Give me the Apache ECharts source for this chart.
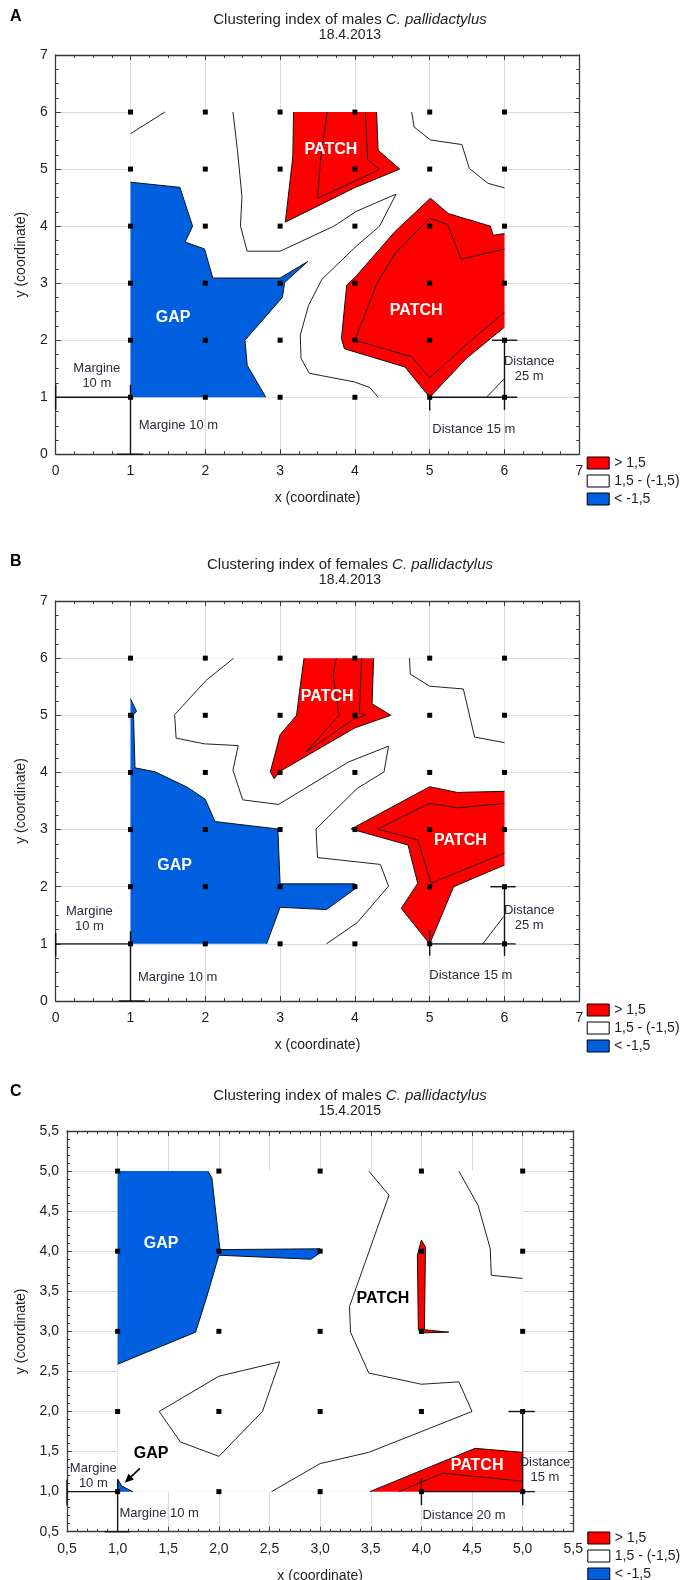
<!DOCTYPE html>
<html>
<head>
<meta charset="utf-8">
<script src="https://cdn.jsdelivr.net/npm/echarts@6/dist/echarts.min.js"></script>
<style>
  html, body { margin: 0; padding: 0; background: #fff; overflow: hidden; }
  #chart { width: 683px; height: 1600px; }
</style>
</head>
<body>
<div id="chart"></div>
<script>
// ---------- Panel A: males, 18.4.2013 ----------
const aTitle = ['Clustering index of males ', 'C. pallidactylus'];
const aDate = '18.4.2013';
const aNodesX = [1, 2, 3, 4, 5, 6];
const aNodesY = [1, 2, 3, 4, 5, 6];
const aStudyArea = [[1, 1], [6, 1], [6, 6], [1, 6]];
const aPatches = [
  [[3.18, 6], [4.29, 6], [4.31, 5.33], [4.60, 5.00], [3.99, 4.67], [3.07, 4.07], [3.17, 5.22]],
  [[5.01, 4.49], [5.25, 4.22], [5.81, 4.00], [5.85, 3.84], [6, 3.87], [6, 2.23], [5.49, 1.68], [5, 1],
   [4.67, 1.53], [3.86, 1.85], [3.82, 2.03], [3.89, 2.96], [4.02, 3.13], [4.54, 3.91]]
];
const aGaps = [
  [[1, 4.77], [1.66, 4.68], [1.83, 4.00], [1.73, 3.72], [1.99, 3.60], [2.10, 3.09], [3.00, 3.09],
   [3.37, 3.38], [3.06, 3.01], [3.03, 2.75], [2.53, 2.00], [2.56, 1.56], [2.81, 1], [1, 1]]
];
const aContours = [
  [[3.63, 6], [3.54, 5.16], [3.50, 4.49], [4.33, 4.99], [4.17, 5.17], [4.14, 6]],
  [[6, 3.60], [5.42, 3.42], [5.24, 4.03], [5.00, 4.14], [4.53, 3.51], [4.30, 3.01], [4.00, 2.00],
   [4.76, 1.71], [5.00, 1.34], [5.53, 1.97], [6, 2.49]],
  [[1, 5.62], [1.46, 6]],
  [[2.37, 6], [2.43, 5.33], [2.49, 4.52], [2.47, 4.00], [2.56, 3.56], [3.00, 3.56], [3.72, 4.00],
   [4.02, 4.26], [4.55, 4.56], [4.33, 4.00], [4.02, 3.65], [3.56, 3.07], [3.38, 2.61], [3.27, 2.09],
   [3.28, 1.68], [3.39, 1.42], [3.99, 1.27], [4.20, 1.17], [4.31, 1]],
  [[4.76, 6], [4.79, 5.74], [5.01, 5.51], [5.43, 5.43], [5.53, 5.01], [5.78, 4.75], [6, 4.67]],
  [[5.76, 1], [6, 1.33]]
];
const aScaleBars = [
  [[0, 1], [1, 1]], [[0, 1.22], [0, 0.78]], [[1, 1.22], [1, 0]], [[0.82, 0], [1.17, 0]],
  [[5, 1], [6.17, 1]], [[5, 1.0], [5, 0.77]], [[6, 1], [6, 0.78]],
  [[6, 1], [6, 2]], [[5.83, 2], [6.17, 2]]
];
const aAreaLabels = [['GAP', 1.57, 2.39], ['PATCH', 3.68, 5.35], ['PATCH', 4.82, 2.52]];
const aCallouts = [];
const aArrows = [];
const aNotes = [
  ['Margine\n10 m', 0.55, 1.37], ['Margine 10 m', 1.64, 0.50],
  ['Distance\n25 m', 6.33, 1.49], ['Distance 15 m', 5.59, 0.43]
];

// ---------- Panel B: females, 18.4.2013 ----------
const bTitle = ['Clustering index of females ', 'C. pallidactylus'];
const bDate = '18.4.2013';
const bNodesX = [1, 2, 3, 4, 5, 6];
const bNodesY = [1, 2, 3, 4, 5, 6];
const bStudyArea = [[1, 1], [6, 1], [6, 6], [1, 6]];
const bPatches = [
  [[3.32, 6], [4.25, 6], [4.23, 5.20], [4.48, 5.00], [4.00, 4.78], [3.00, 4.02], [2.92, 3.89],
   [2.87, 4.01], [3.00, 4.66], [3.22, 5.00], [3.27, 5.52]],
  [[3.95, 3.01], [5.00, 3.75], [5.37, 3.65], [6, 3.67], [6, 2.38], [5.32, 2.00], [5.00, 1.00],
   [4.62, 1.62], [4.84, 2.06], [4.71, 2.73]]
];
const bGaps = [
  [[1, 5.29], [1.08, 5.07], [1.04, 5.01], [1.06, 4.08], [1.33, 4.01], [1.76, 3.74], [2.00, 3.53],
   [2.13, 3.14], [2.97, 3.01], [3.00, 2.05], [4.00, 2.05], [4.03, 1.99], [3.62, 1.60], [3.00, 1.64],
   [2.82, 1], [1, 1]]
];
const bContours = [
  [[3.75, 6], [3.71, 5.69], [3.79, 5.00], [3.35, 4.36], [3.98, 4.93], [4.14, 5.00], [4.06, 5.04], [4.09, 6]],
  [[6, 3.46], [5.37, 3.38], [5.00, 3.46], [4.30, 3.01], [4.84, 2.82], [5.02, 2.06], [6, 2.59]],
  [[2.38, 6], [2.01, 5.61], [1.59, 5.01], [1.61, 4.60], [1.99, 4.50], [2.44, 4.47], [2.37, 4.04],
   [2.50, 3.52], [2.98, 3.44], [3.91, 4.18], [4.45, 4.46], [4.39, 4.01], [4.03, 3.72], [3.48, 3.01],
   [3.50, 2.51], [4.34, 2.39], [4.45, 2.01], [4.03, 1.37], [3.62, 1]],
  [[4.73, 6], [4.74, 5.72], [5.00, 5.51], [5.45, 5.46], [5.60, 4.62], [6, 4.52]],
  [[5.71, 1], [5.99, 1.48]]
];
const bScaleBars = [
  [[0, 1], [1, 1]], [[0, 1.19], [0, 0.78]], [[1, 1.22], [1, 0]], [[0.84, 0], [1.19, 0]],
  [[5, 1], [6.15, 1]], [[5, 1.25], [5, 0.79]], [[6, 1], [6, 0.79]],
  [[6, 1], [6, 2]], [[5.81, 2], [6.15, 2]]
];
const bAreaLabels = [['GAP', 1.59, 2.37], ['PATCH', 3.63, 5.33], ['PATCH', 5.41, 2.81]];
const bCallouts = [];
const bArrows = [];
const bNotes = [
  ['Margine\n10 m', 0.45, 1.44], ['Margine 10 m', 1.63, 0.41],
  ['Distance\n25 m', 6.33, 1.46], ['Distance 15 m', 5.55, 0.44]
];

// ---------- Panel C: males, 15.4.2015 ----------
const cTitle = ['Clustering index of males ', 'C. pallidactylus'];
const cDate = '15.4.2015';
const cNodesX = [1, 2, 3, 4, 5];
const cNodesY = [1, 2, 3, 4, 5];
const cStudyArea = [[1, 1], [5, 1], [5, 5], [1, 5]];
const cPatches = [
  [[4.00, 4.14], [4.04, 4.05], [4.03, 3.02], [4.27, 2.99], [4.00, 2.98], [3.97, 3.02], [3.96, 3.95]],
  [[3.49, 1], [4.53, 1.54], [5, 1.49], [5, 1]]
];
const cGaps = [
  [[1, 5], [1.89, 5], [1.93, 4.92], [2.00, 4.14], [2.01, 4.02], [3.00, 4.03], [3.01, 3.99],
   [2.91, 3.90], [2.00, 3.95], [1.88, 3.43], [1.77, 2.99], [1, 2.59]],
  [[1, 1.16], [1.04, 1.07], [1.15, 1], [1, 1]]
];
const cContours = [
  [[3.78, 1], [4.21, 1.23], [5, 1.13]],
  [[3.48, 5], [3.68, 4.70], [3.29, 3.31], [3.30, 2.99], [3.48, 2.48], [4.00, 2.34], [4.37, 2.37],
   [4.50, 2.00], [4.08, 1.79], [3.48, 1.49], [3.00, 1.35], [2.52, 1]],
  [[4.37, 5], [4.56, 4.57], [4.68, 4.03], [4.69, 3.70], [5, 3.66]],
  [[1.41, 2.00], [2.00, 2.44], [2.60, 2.62], [2.43, 2.00], [2.00, 1.44], [1.62, 1.62], [1.41, 2.00]]
];
const cScaleBars = [
  [[0.5, 1], [1, 1]], [[0.5, 1.15], [0.5, 0.83]], [[1, 1.15], [1, 0.5]], [[0.87, 0.5], [1.12, 0.5]],
  [[4, 1], [5.12, 1]], [[4, 1.17], [4, 0.83]], [[5, 1], [5, 0.83]],
  [[5, 1], [5, 2]], [[4.86, 2], [5.12, 2]]
];
const cAreaLabels = [['GAP', 1.43, 4.09], ['PATCH', 4.55, 1.33]];
const cCallouts = [['PATCH', 3.62, 3.41], ['GAP', 1.33, 1.47]];
const cArrows = [[[1.22, 1.29], [1.07, 1.11]]];
const cNotes = [
  ['Margine\n10 m', 0.76, 1.19], ['Margine 10 m', 1.41, 0.73],
  ['Distance\n15 m', 5.22, 1.27], ['Distance 20 m', 4.42, 0.70]
];

// ---------- Legend classes ----------
const classNames = ['> 1,5', '1,5 - (-1,5)', '< -1,5'];

// ---------- Styling / layout ----------
const FONT = "'Liberation Sans', Arial, sans-serif";
const RED = '#ff0000';
const BLUE = '#005fdf';
const WHITE = '#ffffff';
const INK = '#1e1e1e';
const NOTE_INK = '#2c2a3a';

const panels = [
  { title: aTitle, date: aDate, nodesX: aNodesX, nodesY: aNodesY, area: aStudyArea, patches: aPatches,
    gaps: aGaps, contours: aContours, bars: aScaleBars, areaLabels: aAreaLabels, callouts: aCallouts,
    arrows: aArrows, notes: aNotes },
  { title: bTitle, date: bDate, nodesX: bNodesX, nodesY: bNodesY, area: bStudyArea, patches: bPatches,
    gaps: bGaps, contours: bContours, bars: bScaleBars, areaLabels: bAreaLabels, callouts: bCallouts,
    arrows: bArrows, notes: bNotes },
  { title: cTitle, date: cDate, nodesX: cNodesX, nodesY: cNodesY, area: cStudyArea, patches: cPatches,
    gaps: cGaps, contours: cContours, bars: cScaleBars, areaLabels: cAreaLabels, callouts: cCallouts,
    arrows: cArrows, notes: cNotes }
];

const layouts = [
  { letter: 'A', letterY: 18, titleTop: 7, grid: { left: 55.7, top: 55, width: 523.6, height: 399.3 },
    axis: { min: 0, max: 7, interval: 1, minor: 4, decimals: 0 }, legend: { left: 586.7, top: 456 } },
  { letter: 'B', letterY: 563, titleTop: 552, grid: { left: 55.7, top: 601, width: 523.6, height: 400 },
    axis: { min: 0, max: 7, interval: 1, minor: 4, decimals: 0 }, legend: { left: 586.7, top: 1003 } },
  { letter: 'C', letterY: 1093, titleTop: 1083, grid: { left: 67, top: 1131, width: 506.3, height: 400.7 },
    axis: { min: 0.5, max: 5.5, interval: 0.5, minor: 5, decimals: 1 }, legend: { left: 587.3, top: 1531 } }
];

function fmt(decimals) {
  return v => decimals ? v.toFixed(decimals).replace('.', ',') : String(v);
}

function bounds(area) {
  const xs = area.map(p => p[0]), ys = area.map(p => p[1]);
  return { x0: Math.min(...xs), x1: Math.max(...xs), y0: Math.min(...ys), y1: Math.max(...ys) };
}

// an edge lying on the outer sampling frame is not outlined
function onFrame(p, q, b) {
  const eq = (u, v) => Math.abs(u - v) < 1e-6;
  return (eq(p[0], q[0]) && (eq(p[0], b.x0) || eq(p[0], b.x1))) ||
         (eq(p[1], q[1]) && (eq(p[1], b.y0) || eq(p[1], b.y1)));
}

function areaSeries(name, gi, polys, fill, frame, z) {
  const b = bounds(frame);
  return {
    type: 'custom', name, xAxisIndex: 2 * gi, yAxisIndex: 2 * gi, z, silent: true,
    itemStyle: { color: fill, borderColor: '#000', borderWidth: 1 },
    data: polys.map((_, k) => [k]),
    renderItem(params, api) {
      const poly = polys[params.dataIndex];
      const pts = poly.map(p => api.coord(p));
      const children = [{ type: 'polygon', shape: { points: pts }, style: { fill, stroke: null } }];
      for (let k = 0; k < poly.length; k++) {
        const n = (k + 1) % poly.length;
        if (onFrame(poly[k], poly[n], b)) continue;
        children.push({
          type: 'line',
          shape: { x1: pts[k][0], y1: pts[k][1], x2: pts[n][0], y2: pts[n][1] },
          style: { stroke: '#111', lineWidth: 1 }
        });
      }
      return { type: 'group', children };
    }
  };
}

function pathSeries(gi, lines, width, color, z) {
  return {
    type: 'custom', xAxisIndex: 2 * gi, yAxisIndex: 2 * gi, z, silent: true,
    data: lines.map((_, k) => [k]),
    renderItem(params, api) {
      const pts = lines[params.dataIndex].map(p => api.coord(p));
      return { type: 'polyline', shape: { points: pts }, style: { stroke: color, lineWidth: width, fill: null } };
    }
  };
}

function arrowSeries(gi, arrows, z) {
  return {
    type: 'custom', xAxisIndex: 2 * gi, yAxisIndex: 2 * gi, z, silent: true,
    data: arrows.map((_, k) => [k]),
    renderItem(params, api) {
      const [a, b] = arrows[params.dataIndex].map(p => api.coord(p));
      const ang = Math.atan2(b[1] - a[1], b[0] - a[0]);
      const L = 9, W = 4;
      const bx = b[0] - L * Math.cos(ang), by = b[1] - L * Math.sin(ang);
      const nx = -Math.sin(ang) * W, ny = Math.cos(ang) * W;
      return {
        type: 'group', children: [
          { type: 'line', shape: { x1: a[0], y1: a[1], x2: bx, y2: by }, style: { stroke: '#000', lineWidth: 1.6 } },
          { type: 'polygon', shape: { points: [b, [bx + nx, by + ny], [bx - nx, by - ny]] }, style: { fill: '#000' } }
        ]
      };
    }
  };
}

function textSeries(gi, items, font, fill, z) {
  return {
    type: 'custom', xAxisIndex: 2 * gi, yAxisIndex: 2 * gi, z, silent: true,
    data: items.map((_, k) => [k]),
    renderItem(params, api) {
      const it = items[params.dataIndex];
      const p = api.coord([it[1], it[2]]);
      return {
        type: 'text', x: p[0], y: p[1],
        style: { text: it[0], font, fill, textAlign: 'center', textVerticalAlign: 'middle', lineHeight: 15 }
      };
    }
  };
}

const grids = [], xAxes = [], yAxes = [], series = [], titles = [], legends = [], graphics = [];

panels.forEach((pd, i) => {
  const L = layouts[i];
  grids.push(L.grid);
  const ax = L.axis;
  const frameLine = { onZero: false, lineStyle: { color: '#3a3a3a', width: 1.3 } };
  const tick = { inside: true, length: 5, lineStyle: { color: '#3a3a3a' } };
  const minor = { show: true, splitNumber: ax.minor, length: 3, lineStyle: { color: '#3a3a3a' } };
  const label = { fontFamily: FONT, fontSize: 14, color: INK, formatter: fmt(ax.decimals) };
  const nameStyle = { fontFamily: FONT, fontSize: 14, color: INK };

  xAxes.push({
    gridIndex: i, type: 'value', position: 'bottom', min: ax.min, max: ax.max, interval: ax.interval,
    axisLine: frameLine, axisTick: tick, minorTick: minor,
    splitLine: { show: true, lineStyle: { color: '#d9d9d9', width: 1 } },
    axisLabel: Object.assign({ margin: 10 }, label),
    name: 'x (coordinate)', nameLocation: 'middle', nameGap: 37, nameTextStyle: nameStyle
  });
  xAxes.push({
    gridIndex: i, type: 'value', position: 'top', min: ax.min, max: ax.max, interval: ax.interval,
    axisLine: frameLine, axisTick: tick, minorTick: minor, splitLine: { show: false }, axisLabel: { show: false }
  });
  yAxes.push({
    gridIndex: i, type: 'value', position: 'left', min: ax.min, max: ax.max, interval: ax.interval,
    axisLine: frameLine, axisTick: tick, minorTick: minor,
    splitLine: { show: true, lineStyle: { color: '#d9d9d9', width: 1 } },
    axisLabel: Object.assign({ margin: 8 }, label),
    name: 'y (coordinate)', nameLocation: 'middle', nameGap: 28, nameRotate: 90, nameTextStyle: nameStyle
  });
  yAxes.push({
    gridIndex: i, type: 'value', position: 'right', min: ax.min, max: ax.max, interval: ax.interval,
    axisLine: frameLine, axisTick: tick, minorTick: minor, splitLine: { show: false }, axisLabel: { show: false }
  });

  // sampled cells
  series.push(areaSeries(classNames[1], i, [pd.area], WHITE, pd.area, 2));
  series.push(areaSeries(classNames[0], i, pd.patches, RED, pd.area, 3));
  series.push(areaSeries(classNames[2], i, pd.gaps, BLUE, pd.area, 3));
  series.push(pathSeries(i, pd.contours, 1, '#222', 4));
  series.push(pathSeries(i, pd.bars, 1.4, '#111', 5));
  const nodes = [];
  pd.nodesY.forEach(y => pd.nodesX.forEach(x => nodes.push([x, y])));
  series.push({
    type: 'scatter', xAxisIndex: 2 * i, yAxisIndex: 2 * i, z: 6, silent: true,
    symbol: 'rect', symbolSize: 5, itemStyle: { color: '#000', opacity: 1 }, data: nodes
  });
  series.push(textSeries(i, pd.areaLabels, `bold 16px ${FONT}`, '#ffffff', 7));
  series.push(textSeries(i, pd.callouts, `bold 16px ${FONT}`, '#000000', 7));
  series.push(textSeries(i, pd.notes, `13px ${FONT}`, NOTE_INK, 7));
  series.push(arrowSeries(i, pd.arrows, 7));

  titles.push({
    text: `{n|${pd.title[0]}}{i|${pd.title[1]}}`,
    subtext: pd.date,
    left: 345, top: L.titleTop, textAlign: 'center', itemGap: 1,
    textStyle: {
      fontWeight: 'normal',
      rich: {
        n: { fontFamily: FONT, fontSize: 15, color: INK, fontWeight: 'normal' },
        i: { fontFamily: FONT, fontSize: 15, color: INK, fontWeight: 'normal', fontStyle: 'italic' }
      }
    },
    subtextStyle: { fontFamily: FONT, fontSize: 14, color: INK }
  });

  legends.push({
    orient: 'vertical', left: L.legend.left, top: L.legend.top, padding: 0,
    itemWidth: 22, itemHeight: 12, itemGap: 4, icon: 'rect', selectedMode: false,
    textStyle: { fontFamily: FONT, fontSize: 14, color: INK, lineHeight: 12 },
    data: [
      { name: classNames[0], itemStyle: { color: RED, borderColor: '#000', borderWidth: 1 } },
      { name: classNames[1], itemStyle: { color: WHITE, borderColor: '#000', borderWidth: 1 } },
      { name: classNames[2], itemStyle: { color: BLUE, borderColor: '#000', borderWidth: 1 } }
    ]
  });

  graphics.push({
    type: 'text', left: 10, top: L.letterY - 9,
    style: { text: L.letter, font: `bold 16px ${FONT}`, fill: '#000' }
  });
});

const chart = echarts.init(document.getElementById('chart'), null, { renderer: 'canvas' });
chart.setOption({
  backgroundColor: '#ffffff',
  animation: false,
  title: titles,
  legend: legends,
  grid: grids,
  xAxis: xAxes,
  yAxis: yAxes,
  graphic: graphics,
  series
});
</script>
</body>
</html>
